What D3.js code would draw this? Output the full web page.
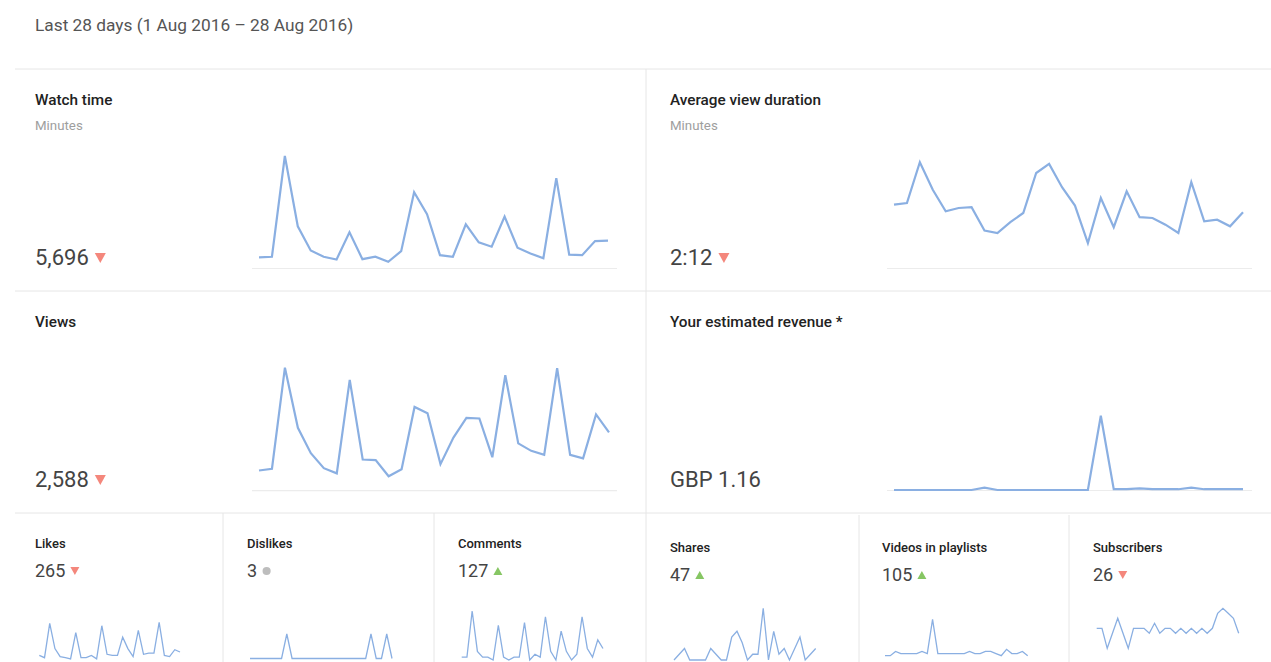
<!DOCTYPE html>
<html>
<head>
    <meta charset="utf-8">
    <title>Last 28 days</title>
    <script src="https://d3js.org/d3.v7.min.js"></script>
    <style>
        html, body { margin: 0; padding: 0; background: #fff; }
        svg text { font-family: Roboto, "Noto Sans", sans-serif; }
    </style>
</head>
<body>
<div id="chart"></div>
<script>
    // 1 Aug .. 28 Aug 2016
    const days = d3.range(1, 29);

    // daily series
    const watchTime = [77, 82, 784, 294, 126, 82, 63, 252, 65, 82, 47, 121, 532, 378,
        93, 82, 308, 182, 152, 362, 145, 105, 72, 630, 96, 93, 191, 194];
    const avgViewDuration = [136, 138, 187, 154, 128, 132, 133, 105, 102, 115, 126, 174, 185, 157,
        135, 90, 144, 109, 152, 121, 120, 112, 102, 163, 116, 118, 110, 127]; // seconds
    const views = [35, 38, 213, 109, 65, 39, 30, 192, 54, 53, 25, 37, 145, 134,
        46, 92, 126, 125, 58, 200, 82, 69, 62, 212, 62, 56, 132, 101];
    const revenue = [0, 0, 0, 0, 0, 0, 0, 0.03, 0, 0, 0, 0, 0, 0,
        0, 0, 0.95, 0.01, 0.01, 0.02, 0.01, 0.01, 0.01, 0.03, 0.01, 0.01, 0.01, 0.01];
    const likes = [4, 2, 32, 10, 3, 2, 1, 24, 2, 2, 4, 1, 30, 5,
        4, 4, 20, 10, 3, 26, 5, 6, 6, 33, 4, 3, 9, 7];
    const dislikes = [0, 0, 0, 0, 0, 0, 0, 1, 0, 0, 0, 0, 0, 0,
        0, 0, 0, 0, 0, 0, 0, 0, 0, 1, 0, 0, 1, 0];
    const comments = [1, 1, 17, 3, 1, 1, 0, 12, 1, 0, 1, 1, 13, 0,
        2, 1, 15, 3, 0, 10, 3, 0, 2, 15, 4, 1, 7, 4];
    const shares = [0, 1, 2, 0, 0, 0, 0, 2, 1, 0, 0, 4, 5, 3,
        0, 1, 1, 9, 0, 5, 1, 2, 0, 2, 4, 0, 1, 2];
    const playlistAdds = [2, 2, 4, 3, 3, 3, 3, 4, 3, 19, 3, 3, 3, 3,
        3, 3, 4, 3, 3, 4, 4, 3, 2, 5, 3, 3, 4, 2];
    const subscribers = [1, 1, -3, 0, 3, 0, -3, 1, 1, 1, 0, 2, 0, 1,
        1, 0, 1, 0, 1, 0, 1, 0, 1, 4, 5, 4, 3, 0];

    const W = 1271, H = 662;
    const lineColor = "#8aafe2";
    const ruleColor = "#e6e6e6";

    const svg = d3.select("#chart").append("svg")
        .attr("width", W)
        .attr("height", H);

    svg.append("rect").attr("width", W).attr("height", H).attr("fill", "#fff");

    svg.append("text")
        .attr("x", 35).attr("y", 31)
        .attr("font-size", "17.3px")
        .attr("fill", "#555")
        .text("Last 28 days (1 Aug 2016 \u2013 28 Aug 2016)");

    // grid rules
    const rules = [
        [15, 69, W, 69], [15, 291, W, 291], [15, 513, W, 513],
        [646, 69, 646, H],
        [223, 513, 223, H], [434, 513, 434, H],
        [859, 515, 859, H], [1069, 515, 1069, H]
    ];
    svg.selectAll(".rule").data(rules).enter().append("line")
        .attr("class", "rule")
        .attr("x1", d => d[0]).attr("y1", d => d[1])
        .attr("x2", d => d[2]).attr("y2", d => d[3])
        .attr("stroke", ruleColor)
        .attr("stroke-width", 1);

    function trendMark(g, x, cy, kind, s) {
        if (kind === "flat") {
            g.append("circle").attr("cx", x + s / 2).attr("cy", cy).attr("r", s * 0.45).attr("fill", "#bdbdbd");
            return;
        }
        const h = s * 0.9;
        const pts = kind === "down"
            ? [[x, cy - h / 2], [x + s, cy - h / 2], [x + s / 2, cy + h / 2]]
            : [[x, cy + h / 2], [x + s, cy + h / 2], [x + s / 2, cy - h / 2]];
        g.append("path")
            .attr("d", d3.line()(pts) + "Z")
            .attr("fill", kind === "down" ? "#f4877c" : "#86c663");
    }

    function sparkline(p, width) {
        const x = d3.scaleLinear().domain(d3.extent(days)).range([p.x0, p.x1]);
        const domain = p.domain || [0, d3.max(p.data)];
        const y = d3.scaleLinear().domain(domain).range([p.base, p.top]);
        if (p.axis) {
            svg.append("line")
                .attr("x1", p.axis[0]).attr("x2", p.axis[1])
                .attr("y1", p.axisY).attr("y2", p.axisY)
                .attr("stroke", "#ececec").attr("stroke-width", 1.2);
        }
        svg.append("path")
            .datum(p.data)
            .attr("fill", "none")
            .attr("stroke", lineColor)
            .attr("stroke-width", width)
            .attr("stroke-linejoin", "miter")
            .attr("d", d3.line().x((d, i) => x(days[i])).y(d => y(d)));
    }

    const bigPanels = [
        { title: "Watch time", sub: "Minutes", value: "5,696", trend: "down", tx: 35, ty: 105, vy: 265,
          data: watchTime, x0: 259, x1: 608, base: 268.5, top: 156, axis: [252, 617], axisY: 268.5 },
        { title: "Average view duration", sub: "Minutes", value: "2:12", trend: "down", tx: 670, ty: 105, vy: 265,
          data: avgViewDuration, domain: [60, 190], x0: 894, x1: 1243, base: 268, top: 159.7, axis: [887, 1252], axisY: 268.5 },
        { title: "Views", value: "2,588", trend: "down", tx: 35, ty: 327, vy: 487,
          data: views, x0: 259, x1: 609, base: 490.7, top: 367.7, axis: [252, 617], axisY: 490.7 },
        { title: "Your estimated revenue *", value: "GBP 1.16", trend: null, tx: 670, ty: 327, vy: 487,
          data: revenue, x0: 894, x1: 1243, base: 490, top: 415.7, axis: [887, 1252], axisY: 490.5 }
    ];

    bigPanels.forEach(p => {
        const g = svg.append("g");
        g.append("text").attr("x", p.tx).attr("y", p.ty)
            .attr("font-size", "15.3px").attr("font-weight", 500).attr("fill", "#222")
            .text(p.title);
        if (p.sub) {
            g.append("text").attr("x", p.tx).attr("y", p.ty + 25)
                .attr("font-size", "13.3px").attr("fill", "#9e9e9e")
                .text(p.sub);
        }
        const v = g.append("text").attr("x", p.tx).attr("y", p.vy)
            .attr("font-size", "22px").attr("fill", "#444")
            .text(p.value);
        if (p.trend) {
            const end = p.tx + v.node().getComputedTextLength();
            trendMark(g, end + 6, p.vy - 7, p.trend, 11);
        }
        sparkline(p, 2.2);
    });

    const smallPanels = [
        { title: "Likes", value: "265", trend: "down", tx: 35, ty: 548, vy: 577,
          data: likes, x0: 39.3, x1: 180, base: 660, top: 622.3 },
        { title: "Dislikes", value: "3", trend: "flat", tx: 247, ty: 548, vy: 577,
          data: dislikes, x0: 250, x1: 392, base: 658.5, top: 634 },
        { title: "Comments", value: "127", trend: "up", tx: 458, ty: 548, vy: 577,
          data: comments, x0: 461.7, x1: 603, base: 660, top: 611 },
        { title: "Shares", value: "47", trend: "up", tx: 670, ty: 552, vy: 581,
          data: shares, x0: 674, x1: 815.7, base: 660, top: 608.3 },
        { title: "Videos in playlists", value: "105", trend: "up", tx: 882, ty: 552, vy: 581,
          data: playlistAdds, x0: 885, x1: 1027.7, base: 660, top: 619.3 },
        { title: "Subscribers", value: "26", trend: "down", tx: 1093, ty: 552, vy: 581,
          data: subscribers, domain: [-3, 5], x0: 1096.7, x1: 1238.7, base: 648.3, top: 608.3 }
    ];

    smallPanels.forEach(p => {
        const g = svg.append("g");
        g.append("text").attr("x", p.tx).attr("y", p.ty)
            .attr("font-size", "13px").attr("font-weight", 500).attr("fill", "#222")
            .text(p.title);
        const v = g.append("text").attr("x", p.tx).attr("y", p.vy)
            .attr("font-size", "18px").attr("fill", "#444")
            .text(p.value);
        const end = p.tx + v.node().getComputedTextLength();
        trendMark(g, end + 5, p.vy - 6, p.trend, 9);
        sparkline(p, 1.3);
    });
</script>
</body>
</html>
